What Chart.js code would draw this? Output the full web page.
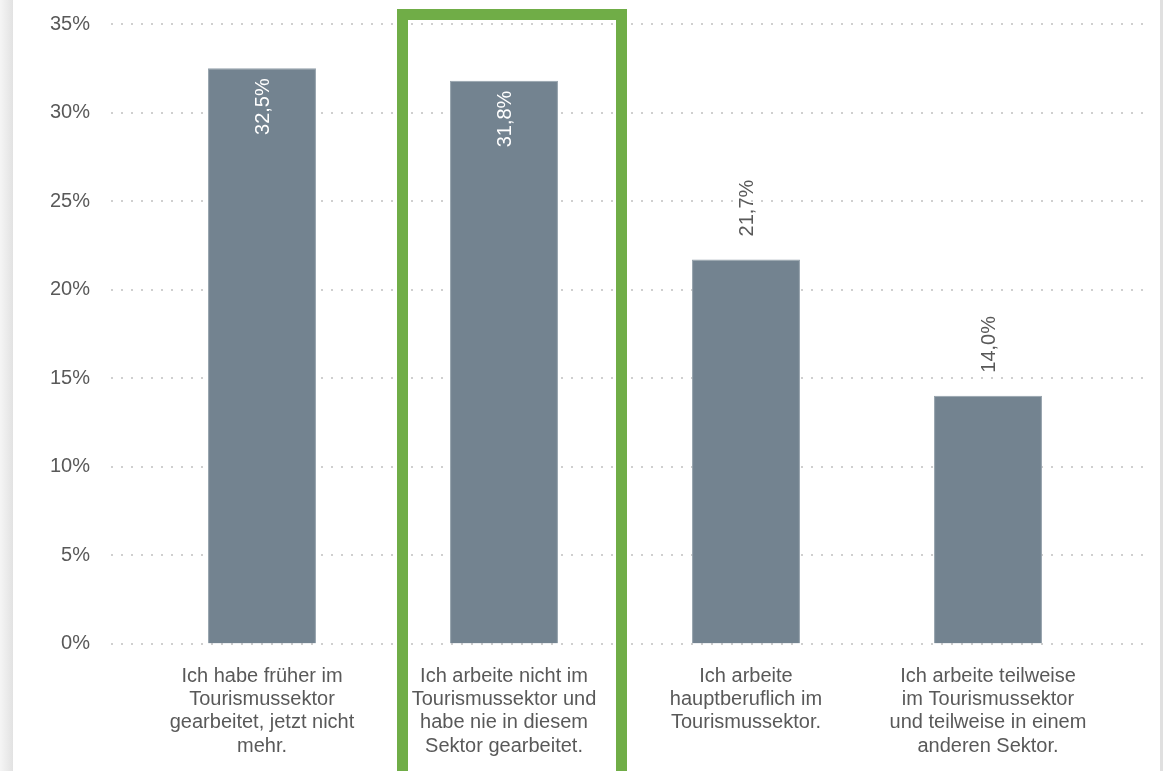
<!DOCTYPE html>
<html>
<head>
<meta charset="utf-8">
<script src="https://cdn.jsdelivr.net/npm/chart.js@4/dist/chart.umd.min.js"></script>
<style>
  html, body { margin: 0; padding: 0; background: #ffffff; overflow: hidden; }
  canvas { display: block; }
</style>
</head>
<body>
<canvas id="c" width="1163" height="771"></canvas>
<script>
// ---- data ----
const categories = [
  ["Ich habe früher im", "Tourismussektor", "gearbeitet, jetzt nicht", "mehr."],
  ["Ich arbeite nicht im", "Tourismussektor und", "habe nie in diesem", "Sektor gearbeitet."],
  ["Ich arbeite", "hauptberuflich im", "Tourismussektor."],
  ["Ich arbeite teilweise", "im Tourismussektor", "und teilweise in einem", "anderen Sektor."]
];
const shares = [32.5, 31.8, 21.7, 14.0];
const valueLabels = ["32,5%", "31,8%", "21,7%", "14,0%"];
const yTicks = [0, 5, 10, 15, 20, 25, 30, 35];
const highlightedIndex = 1;

const FONT = "'Liberation Sans', Arial, sans-serif";
const TEXT = '#595959';

const decorPlugin = {
  id: 'decor',
  beforeDraw(chart) {
    const ctx = chart.ctx;
    ctx.save();
    // left shadow edge
    const g = ctx.createLinearGradient(0, 0, 13, 0);
    g.addColorStop(0, '#f5f5f5');
    g.addColorStop(1, '#e2e2e2');
    ctx.fillStyle = g;
    ctx.fillRect(0, 0, 13, chart.height);
    // right border
    ctx.fillStyle = '#e0e0e0';
    ctx.fillRect(1160, 0, 3, chart.height);
    // dotted grid lines
    const y = chart.scales.y;
    ctx.strokeStyle = '#cfcfcf';
    ctx.lineWidth = 2;
    ctx.setLineDash([2, 8]);
    yTicks.forEach(v => {
      const py = Math.round(y.getPixelForValue(v));
      ctx.beginPath();
      ctx.moveTo(111, py);
      ctx.lineTo(1149, py);
      ctx.stroke();
    });
    ctx.restore();
  },
  afterDatasetsDraw(chart) {
    const ctx = chart.ctx;
    const meta = chart.getDatasetMeta(0);
    ctx.save();
    ctx.font = '20px ' + FONT;
    ctx.textBaseline = 'middle';
    meta.data.forEach((bar, i) => {
      const inside = shares[i] > 25;
      ctx.save();
      ctx.translate(bar.x, inside ? bar.y + 10 : bar.y - 23);
      ctx.rotate(-Math.PI / 2);
      ctx.textAlign = inside ? 'right' : 'left';
      ctx.fillStyle = inside ? '#ffffff' : TEXT;
      ctx.fillText(valueLabels[i], 0, 1);
      ctx.restore();
    });
    // highlight frame
    const x = chart.scales.x;
    const cx = x.getPixelForValue(highlightedIndex);
    ctx.strokeStyle = '#70ad47';
    ctx.lineWidth = 11;
    ctx.setLineDash([]);
    ctx.strokeRect(cx - 101.5, chart.chartArea.top - 9.5, 219, 800);
    ctx.restore();
  }
};

new Chart(document.getElementById('c'), {
  type: 'bar',
  data: {
    labels: categories,
    datasets: [{
      data: shares,
      backgroundColor: '#738390',
      borderColor: '#93a0aa',
      borderWidth: 1,
      barPercentage: 0.892,
      categoryPercentage: 0.5
    }]
  },
  options: {
    responsive: false,
    devicePixelRatio: 1,
    animation: false,
    layout: { padding: { left: 0, right: 54, top: 24, bottom: 0 } },
    plugins: { legend: { display: false }, tooltip: { enabled: false } },
    scales: {
      x: {
        grid: { display: false, drawTicks: true, tickLength: 21 },
        border: { display: false },
        ticks: {
          color: TEXT,
          padding: 0,
          maxRotation: 0,
          autoSkip: false,
          font: { family: FONT, size: 20, lineHeight: 1.165 }
        },
        afterFit(s) { s.height = 127.5; }
      },
      y: {
        min: 0,
        max: 35,
        grid: { display: false, drawTicks: true, tickLength: 51 },
        border: { display: false },
        afterBuildTicks(s) { s.ticks = yTicks.map(v => ({ value: v })); },
        ticks: {
          color: TEXT,
          padding: 0,
          font: { family: FONT, size: 20 },
          callback: v => v + '%'
        },
        afterFit(s) { s.width = 141; }
      }
    }
  },
  plugins: [decorPlugin]
});
</script>
</body>
</html>
